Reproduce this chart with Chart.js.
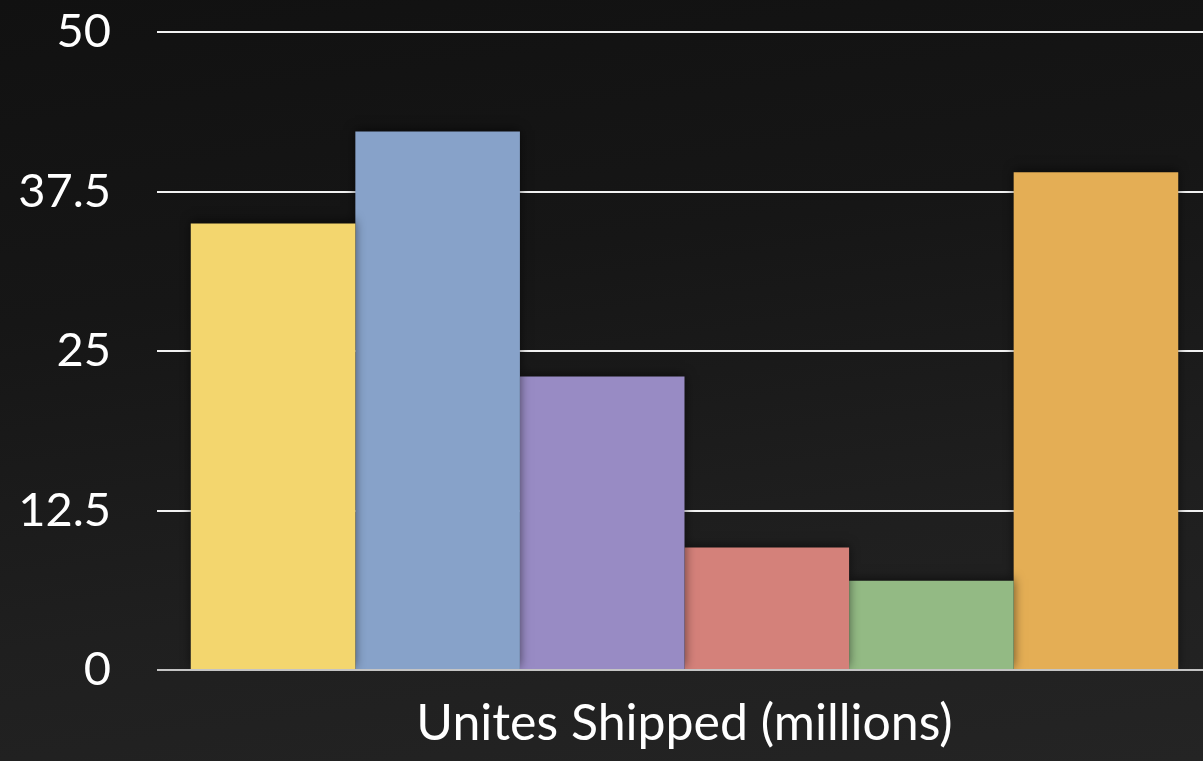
<!DOCTYPE html>
<html>
<head>
<meta charset="utf-8">
<script src="https://cdn.jsdelivr.net/npm/chart.js@4"></script>
<style>
  html, body { margin: 0; padding: 0; overflow: hidden; }
  body {
    width: 1203px; height: 761px;
    background: linear-gradient(172deg, #111111 0%, #161616 35%, #1f1f1f 70%, #242424 100%);
  }
  #wrap { position: relative; width: 1212px; height: 761px; }
</style>
</head>
<body>
<div id="wrap"><canvas id="shipped"></canvas></div>
<script>
// data
var categories = ["Unites Shipped (millions)"];
var seriesNames = ["Series 1", "Series 2", "Series 3", "Series 4", "Series 5", "Series 6"];
var seriesValues = [35, 42.2, 23, 9.6, 7, 39];
var barColors = ["#f3d66e", "#87a2c9", "#988bc4", "#d4817a", "#93ba84", "#e4ae55"];
var tickValues = [0, 12.5, 25, 37.5, 50];

var datasets = [];
for (let i = 0; i < seriesNames.length; i++) {
    datasets.push({
        label: seriesNames[i],
        data: [seriesValues[i]],
        backgroundColor: barColors[i],
        borderWidth: 0,
        categoryPercentage: 0.936,
        barPercentage: 1
    });
}

// soft shadow under the bars, and the light zero line on top of them
var barShadow = {
    id: 'barShadow',
    beforeDatasetsDraw: function(chart) {
        var ctx = chart.ctx;
        ctx.save();
        ctx.shadowColor = 'rgba(0,0,0,0.55)';
        ctx.shadowBlur = 10;
        ctx.shadowOffsetX = 0;
        ctx.shadowOffsetY = -2;
    },
    afterDatasetsDraw: function(chart) {
        var ctx = chart.ctx;
        ctx.restore();
        var y = chart.scales.y.getPixelForValue(0);
        ctx.save();
        ctx.strokeStyle = '#c4c4c4';
        ctx.lineWidth = 2;
        ctx.beginPath();
        ctx.moveTo(chart.chartArea.left, y);
        ctx.lineTo(chart.chartArea.right, y);
        ctx.stroke();
        ctx.restore();
    }
};

var font = 'Lato, "Open Sans", sans-serif';

var ctx = document.getElementById('shipped').getContext('2d');
var myBarChart = new Chart(ctx, {
    type: 'bar',
    data: {
        labels: categories,
        datasets: datasets
    },
    plugins: [barShadow],
    options: {
        responsive: true,
        maintainAspectRatio: false,
        animation: false,
        layout: {
            padding: { top: 32, right: 0, bottom: 0, left: 0 }
        },
        plugins: {
            legend: { display: false },
            tooltip: { enabled: false }
        },
        scales: {
            x: {
                grid: { display: false, drawTicks: false },
                border: { display: false },
                afterFit: function(axis) { axis.height = 91; axis.paddingLeft = 0; axis.paddingRight = 0; },
                ticks: {
                    color: '#ffffff',
                    padding: 24,
                    maxRotation: 0,
                    font: { family: font, size: 50 }
                }
            },
            y: {
                min: 0,
                max: 50,
                afterBuildTicks: function(axis) {
                    axis.ticks = tickValues.map(function(v) { return { value: v }; });
                },
                afterFit: function(axis) { axis.width = 157; axis.paddingTop = 0; axis.paddingBottom = 0; },
                grid: {
                    color: '#f2f2f2',
                    lineWidth: 2,
                    drawTicks: false
                },
                border: { display: false },
                ticks: {
                    color: '#ffffff',
                    padding: 46,
                    font: { family: font, size: 47 },
                    callback: function(v) { return String(v); }
                }
            }
        }
    }
});
</script>
</body>
</html>
